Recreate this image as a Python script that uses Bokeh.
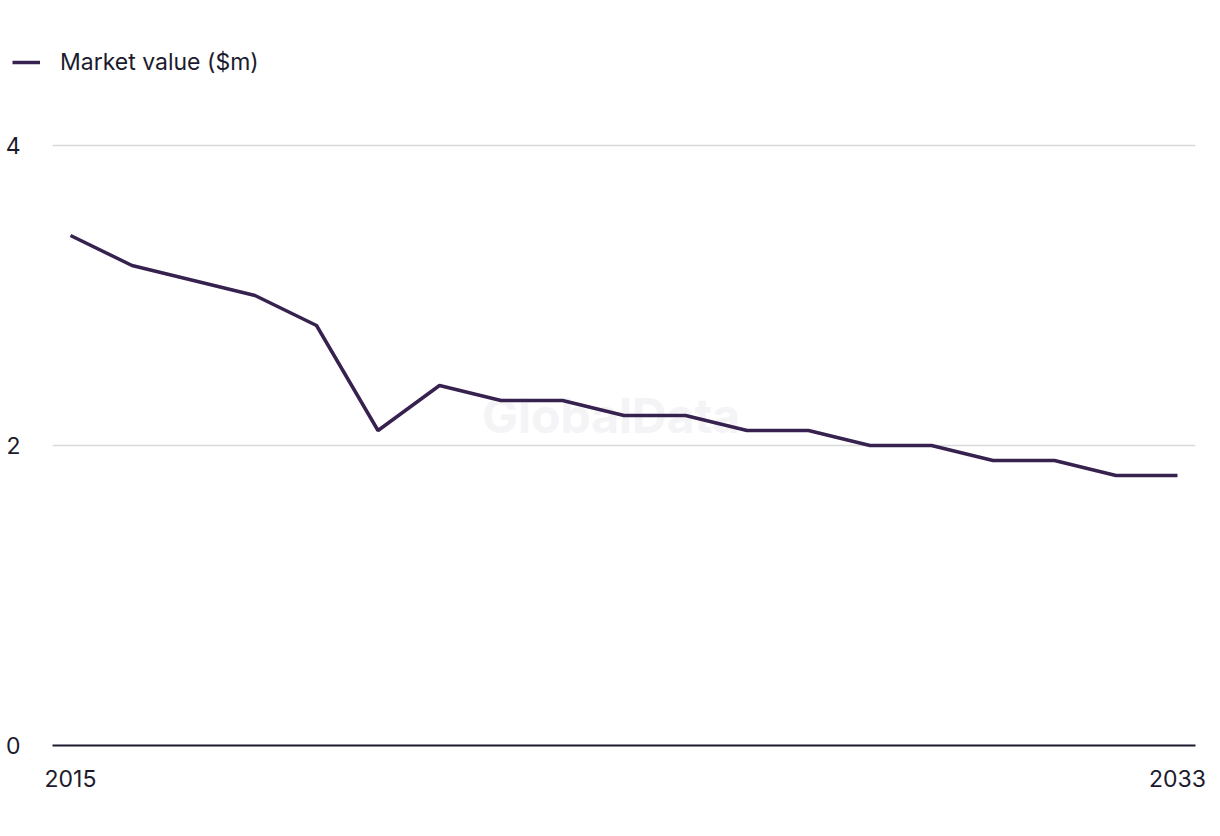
from bokeh.plotting import figure
from bokeh.layouts import column
from bokeh.models import Legend, LegendItem, FixedTicker, Range1d, Label
from bokeh.embed import file_html
from bokeh.resources import INLINE

years = list(range(2015, 2034))
market_value = [3.4, 3.2, 3.1, 3.0, 2.8, 2.1, 2.4, 2.3, 2.3, 2.2, 2.2,
                2.1, 2.1, 2.0, 2.0, 1.9, 1.9, 1.8, 1.8]
y_ticks = [0, 2, 4]
x_ticks = [2015, 2033]
series_name = "Market value ($m)"

FONT = "Inter"
TEXT = "#1c1b2e"
LINE = "#36214f"
FS = "23px"
LW = 3.5

# ---- legend strip on top ----
top = figure(width=1220, height=115, output_backend="svg", toolbar_location=None,
             x_range=Range1d(2014.707, 2033.293), y_range=Range1d(100, 101),
             min_border_left=0, min_border_right=0, min_border_top=0,
             min_border_bottom=0, x_axis_location=None, y_axis_location=None)
top.frame_align = False
top.outline_line_color = None
top.xgrid.visible = False
top.ygrid.visible = False
r_leg = top.line(years, market_value, line_color=LINE, line_width=LW)
legend = Legend(items=[LegendItem(label=series_name, renderers=[r_leg])],
                location=(12, 39), orientation="horizontal",
                label_text_font=FONT, label_text_font_size=FS,
                label_text_color=TEXT, glyph_width=28, label_standoff=20,
                border_line_color=None, background_fill_alpha=0,
                padding=0, margin=0, spacing=0)
top.add_layout(legend)

# ---- main chart ----
p = figure(width=1220, height=721, output_backend="svg", toolbar_location=None,
           x_range=Range1d(2014.707, 2033.293), y_range=Range1d(0, 625 / 150),
           min_border_left=52, min_border_right=25, min_border_top=5,
           min_border_bottom=91)
p.frame_align = False
p.outline_line_color = None
p.background_fill_color = "white"
p.border_fill_color = "white"

wm = Label(x=2023.79, y=2.2, text="GlobalData", text_align="center",
           text_baseline="middle", text_font=FONT, text_font_style="bold",
           text_font_size="48px", text_color="#f4f4f6", level="underlay")
p.add_layout(wm)

r = p.line(years, market_value, line_color=LINE, line_width=LW)

p.xaxis.ticker = FixedTicker(ticks=x_ticks)
p.yaxis.ticker = FixedTicker(ticks=y_ticks)
p.xgrid.grid_line_color = None
p.ygrid.grid_line_color = "#d9d9dd"
p.ygrid.grid_line_width = 1.5

p.yaxis.axis_line_color = None
p.yaxis.major_tick_line_color = None
p.yaxis.minor_tick_line_color = None
p.yaxis.major_label_standoff = 26
p.yaxis.major_label_text_font = FONT
p.yaxis.major_label_text_font_size = FS
p.yaxis.major_label_text_color = TEXT

p.xaxis.axis_line_color = "#1c1b2e"
p.xaxis.axis_line_width = 2
p.xaxis.major_tick_line_color = None
p.xaxis.minor_tick_line_color = None
p.xaxis.major_label_standoff = 18
p.xaxis.major_label_text_font = FONT
p.xaxis.major_label_text_font_size = FS
p.xaxis.major_label_text_color = TEXT

layout = column(top, p, spacing=0)
open("out.html", "w").write(file_html(layout, INLINE))
